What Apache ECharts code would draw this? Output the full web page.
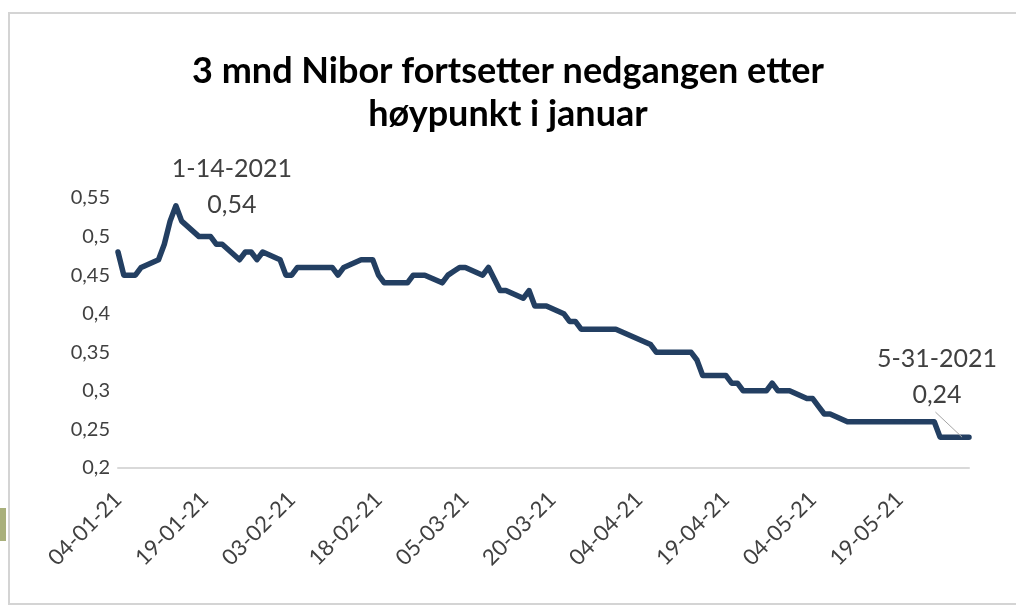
<!DOCTYPE html>
<html>
<head>
<meta charset="utf-8">
<script src="https://cdn.jsdelivr.net/npm/echarts@6/dist/echarts.min.js"></script>
<style>
html, body { margin: 0; padding: 0; background: #fff; }
#main { width: 1016px; height: 609px; }
</style>
</head>
<body>
<div id="main"></div>
<script>
var myChart = echarts.init(document.getElementById('main'));

// 3 mnd Nibor, handelsdager jan-mai 2021
var dates = [
	'2021-01-04', '2021-01-05', '2021-01-06', '2021-01-07', '2021-01-08',
	'2021-01-11', '2021-01-12', '2021-01-13', '2021-01-14', '2021-01-15',
	'2021-01-18', '2021-01-19', '2021-01-20', '2021-01-21', '2021-01-22',
	'2021-01-25', '2021-01-26', '2021-01-27', '2021-01-28', '2021-01-29',
	'2021-02-01', '2021-02-02', '2021-02-03', '2021-02-04', '2021-02-05',
	'2021-02-08', '2021-02-09', '2021-02-10', '2021-02-11', '2021-02-12',
	'2021-02-15', '2021-02-16', '2021-02-17', '2021-02-18', '2021-02-19',
	'2021-02-22', '2021-02-23', '2021-02-24', '2021-02-25', '2021-02-26',
	'2021-03-01', '2021-03-02', '2021-03-03', '2021-03-04', '2021-03-05',
	'2021-03-08', '2021-03-09', '2021-03-10', '2021-03-11', '2021-03-12',
	'2021-03-15', '2021-03-16', '2021-03-17', '2021-03-18', '2021-03-19',
	'2021-03-22', '2021-03-23', '2021-03-24', '2021-03-25', '2021-03-26',
	'2021-03-29', '2021-03-30', '2021-03-31',
	'2021-04-06', '2021-04-07', '2021-04-08', '2021-04-09',
	'2021-04-12', '2021-04-13', '2021-04-14', '2021-04-15', '2021-04-16',
	'2021-04-19', '2021-04-20', '2021-04-21', '2021-04-22', '2021-04-23',
	'2021-04-26', '2021-04-27', '2021-04-28', '2021-04-29', '2021-04-30',
	'2021-05-03', '2021-05-04', '2021-05-05', '2021-05-06', '2021-05-07',
	'2021-05-10', '2021-05-11', '2021-05-12', '2021-05-14',
	'2021-05-18', '2021-05-19', '2021-05-20', '2021-05-21',
	'2021-05-25', '2021-05-26', '2021-05-27', '2021-05-28', '2021-05-31'
];
var values = [
	0.48, 0.45, 0.45, 0.45, 0.46,
	0.47, 0.49, 0.52, 0.54, 0.52,
	0.50, 0.50, 0.50, 0.49, 0.49,
	0.47, 0.48, 0.48, 0.47, 0.48,
	0.47, 0.45, 0.45, 0.46, 0.46,
	0.46, 0.46, 0.46, 0.45, 0.46,
	0.47, 0.47, 0.47, 0.45, 0.44,
	0.44, 0.44, 0.45, 0.45, 0.45,
	0.44, 0.45, 0.455, 0.46, 0.46,
	0.45, 0.46, 0.445, 0.43, 0.43,
	0.42, 0.43, 0.41, 0.41, 0.41,
	0.40, 0.39, 0.39, 0.38, 0.38,
	0.38, 0.38, 0.38,
	0.36, 0.35, 0.35, 0.35,
	0.35, 0.35, 0.34, 0.32, 0.32,
	0.32, 0.31, 0.31, 0.30, 0.30,
	0.30, 0.31, 0.30, 0.30, 0.30,
	0.29, 0.29, 0.28, 0.27, 0.27,
	0.26, 0.26, 0.26, 0.26,
	0.26, 0.26, 0.26, 0.26,
	0.26, 0.24, 0.24, 0.24, 0.24
];
var yTicks = [0.2, 0.25, 0.3, 0.35, 0.4, 0.45, 0.5, 0.55];
var notes = [
	{ date: '2021-01-14', text: '1-14-2021\n0,54' },
	{ date: '2021-05-31', text: '5-31-2021\n0,24' }
];

var startDay = Date.UTC(2021, 0, 4);
var endDay = Date.UTC(2021, 4, 31);
var dayMs = 86400000;
function dayIndex(s) {
	var p = s.split('-');
	return Math.round((Date.UTC(+p[0], +p[1] - 1, +p[2]) - startDay) / dayMs);
}
function pad(n) { return n < 10 ? '0' + n : '' + n; }

var seriesData = [];
for (let i = 0; i < dates.length; i++) {
	var item = { value: [dayIndex(dates[i]), values[i]] };
	for (let j = 0; j < notes.length; j++) {
		if (notes[j].date === dates[i]) {
			item.label = {
				show: true,
				position: 'top',
				formatter: notes[j].text,
				offset: j === 0 ? [56, 23] : [-32, -19]
			};
		}
	}
	seriesData.push(item);
}
// tynn hjelpelinje fra siste etikett ned til punktet
var lastIdx = dates.length - 1;
var leader = [
	{ coord: [dayIndex(dates[lastIdx]) - 5.8, values[lastIdx] + 0.0325] },
	{ coord: [dayIndex(dates[lastIdx]) - 1.2, values[lastIdx]] }
];

var txt = '#404040';
var font = 'Lato, "Noto Sans", sans-serif';

option = {
	animation: false,
	backgroundColor: '#fff',
	title: {
		text: '3 mnd Nibor fortsetter nedgangen etter\nhøypunkt i januar',
		left: 'center',
		top: 45,
		textStyle: {
			fontFamily: font,
			fontSize: 36,
			fontWeight: 'bold',
			color: '#000',
			lineHeight: 43
		}
	},
	grid: {
		left: 118,
		right: 47,
		top: 198,
		bottom: 141
	},
	xAxis: {
		type: 'value',
		min: 0,
		max: (endDay - startDay) / dayMs,
		interval: 15,
		axisLine: { show: true, onZero: false, lineStyle: { color: '#d9d9d9', width: 2 } },
		axisTick: { show: false },
		splitLine: { show: false },
		axisLabel: {
			rotate: 45,
			margin: 28,
			showMaxLabel: false,
			fontFamily: font,
			fontSize: 22,
			color: txt,
			formatter: function (v) {
				var d = new Date(startDay + v * dayMs);
				return pad(d.getUTCDate()) + '-' + pad(d.getUTCMonth() + 1) + '-' + String(d.getUTCFullYear()).slice(2);
			}
		}
	},
	yAxis: {
		type: 'value',
		min: yTicks[0],
		max: yTicks[yTicks.length - 1],
		interval: 0.05,
		axisLine: { show: false },
		axisTick: { show: false },
		splitLine: { show: false },
		axisLabel: {
			margin: 8,
			fontFamily: font,
			fontSize: 20,
			color: txt,
			formatter: function (v) {
				return String(Math.round(v * 100) / 100).replace('.', ',');
			}
		}
	},
	series: [{
		type: 'line',
		data: seriesData,
		symbol: 'circle',
		symbolSize: 1,
		showSymbol: true,
		itemStyle: { color: '#233f62' },
		lineStyle: { color: '#233f62', width: 5.5, join: 'round', cap: 'round' },
		label: {
			fontFamily: font,
			fontSize: 25,
			lineHeight: 36,
			color: txt,
			align: 'center'
		},
		markLine: {
			silent: true,
			symbol: 'none',
			label: { show: false },
			lineStyle: { color: '#a6a6a6', width: 1, type: 'solid' },
			data: [leader]
		}
	}],
	graphic: [
		{ type: 'rect', shape: { x: 9, y: 13, width: 1020, height: 591 }, style: { fill: null, stroke: '#d4d4d4', lineWidth: 2 } },
		{ type: 'rect', shape: { x: 0, y: 508, width: 6, height: 33 }, style: { fill: '#a9b07b' } }
	]
};

myChart.setOption(option);
</script>
</body>
</html>
